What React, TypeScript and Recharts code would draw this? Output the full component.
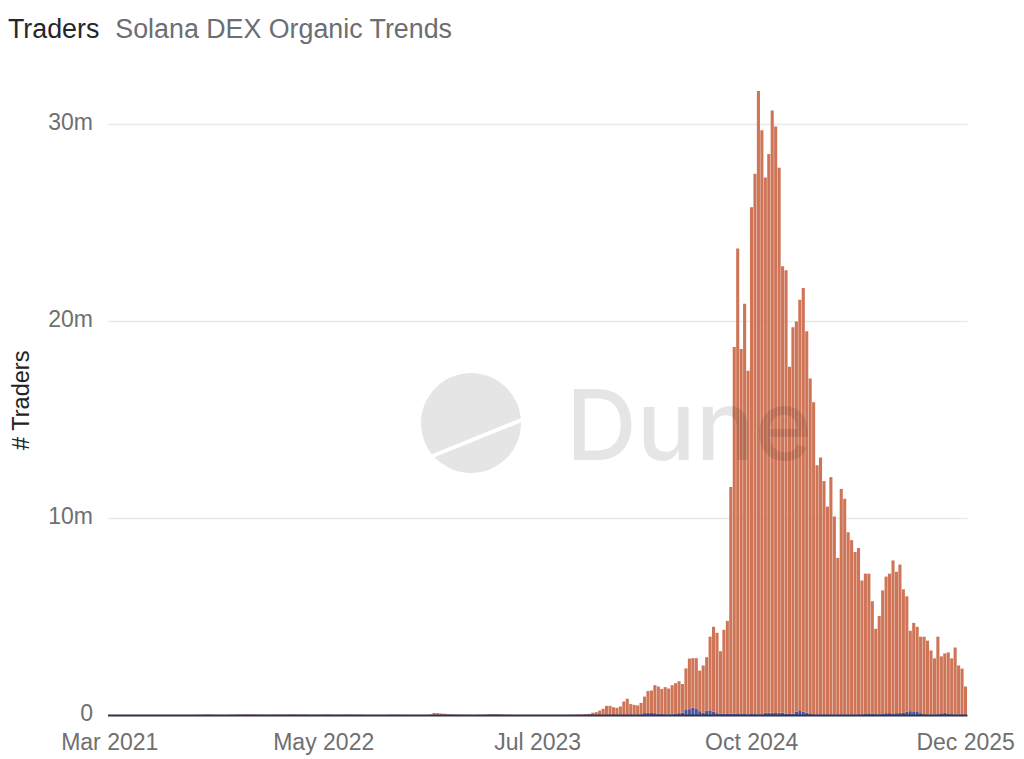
import { Bar, BarChart, CartesianGrid, XAxis, YAxis } from "recharts";

// weekly unique traders, in millions, one entry per week from Mar 2021 to Dec 2025
const totalTraders = [
  0.01, 0.01, 0.01, 0.01, 0.01, 0.01, 0.01, 0.01, 0.01, 0.01,
  0.01, 0.01, 0.01, 0.01, 0.01, 0.01, 0.02, 0.02, 0.02, 0.02,
  0.02, 0.02, 0.02, 0.03, 0.03, 0.03, 0.04, 0.04, 0.05, 0.05,
  0.04, 0.04, 0.03, 0.03, 0.03, 0.04, 0.04, 0.05, 0.05, 0.06,
  0.06, 0.06, 0.05, 0.05, 0.05, 0.04, 0.04, 0.05, 0.05, 0.05,
  0.05, 0.05, 0.06, 0.06, 0.05, 0.05, 0.05, 0.05, 0.04, 0.04,
  0.04, 0.04, 0.05, 0.05, 0.05, 0.04, 0.04, 0.04, 0.04, 0.05,
  0.05, 0.04, 0.04, 0.04, 0.03, 0.03, 0.03, 0.03, 0.03, 0.03,
  0.03, 0.04, 0.04, 0.04, 0.04, 0.03, 0.03, 0.03, 0.03, 0.03,
  0.03, 0.03, 0.03, 0.05, 0.13, 0.12, 0.1, 0.09, 0.07, 0.06,
  0.05, 0.05, 0.04, 0.04, 0.04, 0.03, 0.03, 0.04, 0.04, 0.05,
  0.06, 0.07, 0.07, 0.06, 0.05, 0.04, 0.04, 0.03, 0.03, 0.03,
  0.03, 0.03, 0.03, 0.03, 0.03, 0.03, 0.03, 0.03, 0.03, 0.03,
  0.03, 0.03, 0.03, 0.03, 0.04, 0.04,
  0.05, 0.05, 0.07, 0.08, 0.14, 0.17, 0.25, 0.34, 0.49, 0.49,
  0.42, 0.39, 0.46, 0.71, 0.85, 0.58, 0.54, 0.51, 0.64, 0.96,
  1.24, 1.27, 1.54, 1.47, 1.35, 1.44, 1.37, 1.54, 1.64, 1.74,
  1.6, 2.39, 2.89, 2.91, 2.91, 2.28, 2.54, 2.96, 4.0, 4.5,
  4.2, 3.26, 4.35, 4.8,
  11.6, 18.7, 23.7, 18.6, 20.9, 17.5, 25.8, 27.5, 31.7, 29.7,
  27.3, 28.5, 30.7, 29.9, 27.8, 22.8, 22.6, 17.7, 19.7, 20.0,
  21.1, 21.7, 19.5, 17.1, 15.9,
  12.7, 13.1, 11.9, 10.6, 12.1, 10.1, 8.0,
  11.5, 11.0, 9.3, 8.9, 8.3, 8.5, 6.85, 7.2, 7.2, 5.8,
  4.4, 5.05, 6.35, 7.05, 7.2, 7.87, 7.3, 7.66, 6.4, 6.05,
  4.3, 4.7, 4.5, 4.0, 4.0, 3.8, 3.3, 2.9, 4.0, 3.0,
  3.15, 3.2, 2.9, 3.45, 2.54, 2.38, 1.47
];

const organicTraders = [
  0.01, 0.01, 0.01, 0.01, 0.01, 0.01, 0.01, 0.01, 0.01, 0.01,
  0.01, 0.01, 0.01, 0.01, 0.01, 0.01, 0.01, 0.01, 0.01, 0.01,
  0.01, 0.01, 0.01, 0.01, 0.01, 0.01, 0.01, 0.01, 0.01, 0.01,
  0.01, 0.01, 0.01, 0.01, 0.01, 0.01, 0.01, 0.01, 0.01, 0.01,
  0.01, 0.01, 0.01, 0.01, 0.01, 0.01, 0.01, 0.01, 0.01, 0.01,
  0.01, 0.01, 0.01, 0.01, 0.01, 0.01, 0.01, 0.01, 0.01, 0.01,
  0.01, 0.01, 0.01, 0.01, 0.01, 0.01, 0.01, 0.01, 0.01, 0.01,
  0.01, 0.01, 0.01, 0.01, 0.01, 0.01, 0.01, 0.01, 0.01, 0.01,
  0.01, 0.01, 0.01, 0.01, 0.01, 0.01, 0.01, 0.01, 0.01, 0.01,
  0.01, 0.01, 0.01, 0.01, 0.01, 0.01, 0.01, 0.01, 0.01, 0.01,
  0.01, 0.01, 0.01, 0.01, 0.01, 0.01, 0.01, 0.01, 0.01, 0.01,
  0.01, 0.01, 0.01, 0.01, 0.01, 0.01, 0.01, 0.01, 0.01, 0.01,
  0.01, 0.01, 0.01, 0.01, 0.01, 0.01, 0.01, 0.01, 0.01, 0.01,
  0.01, 0.01, 0.01, 0.01, 0.01, 0.01,
  0.02, 0.02, 0.02, 0.02, 0.02, 0.03, 0.03, 0.03, 0.03, 0.03,
  0.03, 0.03, 0.03, 0.03, 0.04, 0.04, 0.04, 0.05, 0.06,
  0.12, 0.13, 0.13, 0.12, 0.1,
  0.07, 0.06, 0.05, 0.06, 0.1, 0.12,
  0.14, 0.28, 0.32, 0.4, 0.36, 0.22,
  0.15, 0.24, 0.26, 0.2,
  0.12, 0.1, 0.08, 0.08, 0.1, 0.1, 0.08, 0.07, 0.07, 0.06, 0.08, 0.07, 0.06, 0.06,
  0.14, 0.15, 0.14, 0.13, 0.15, 0.14, 0.1,
  0.08, 0.09,
  0.2, 0.23, 0.2, 0.14,
  0.08, 0.06, 0.05, 0.05, 0.05, 0.05, 0.05, 0.05, 0.05, 0.05, 0.05, 0.05, 0.05, 0.05, 0.05, 0.06, 0.07,
  0.11, 0.1,
  0.07, 0.06, 0.08,
  0.12, 0.12, 0.11, 0.12, 0.13, 0.13,
  0.2, 0.22, 0.21, 0.18, 0.12,
  0.07, 0.05, 0.05, 0.05, 0.06,
  0.11, 0.13, 0.11,
  0.07, 0.05, 0.05, 0.05, 0.05
];

const monthLabels = ["Mar 2021", "May 2022", "Jul 2023", "Oct 2024", "Dec 2025"];
const valueTicks = [0, 10, 20, 30];
const WEEKS_PER_LABEL = 62;

const rows = totalTraders.map((total, week) => ({
  week,
  organic: organicTraders[week],
  other: total - organicTraders[week]
}));

const tickFont = { fontSize: 23, fill: "#6f6f6f", fontFamily: "'Liberation Sans', sans-serif" };

export default function App() {
  return (
    <div style={{ position: "absolute", left: 0, top: 0, width: 1024, height: 759, background: "#fff", overflow: "hidden" }}>
      <div style={{ position: "absolute", left: 8, top: 14, fontFamily: "'Liberation Sans', sans-serif", fontSize: 26.8, lineHeight: "30px", whiteSpace: "nowrap" }}>
        <span style={{ color: "#23262b" }}>Traders</span>
        <span style={{ color: "#6b6e72", marginLeft: 16 }}>Solana DEX Organic Trends</span>
      </div>
      <BarChart
        width={1024}
        height={759}
        data={rows}
        margin={{ top: 85, right: 56.6, left: 0, bottom: 0 }}
        style={{ position: "absolute", left: 0, top: 0 }}
      >
        <CartesianGrid vertical={false} stroke="#e9e9e9" strokeWidth={1.5} horizontalValues={valueTicks} />
        <XAxis
          dataKey="week"
          interval={WEEKS_PER_LABEL - 1}
          height={43.5}
          tickLine={false}
          tickMargin={12}
          axisLine={{ stroke: "#2f3350", strokeWidth: 2 }}
          tick={tickFont}
          tickFormatter={(week: number) => monthLabels[week / WEEKS_PER_LABEL]}
        />
        <YAxis
          width={108}
          domain={[0, 32]}
          ticks={valueTicks}
          interval={0}
          tickLine={false}
          axisLine={false}
          tickMargin={9}
          tick={{ ...tickFont, dy: -3 }}
          tickFormatter={(v: number) => (v === 0 ? "0" : `${v}m`)}
          label={{
            value: "# Traders",
            angle: -90,
            position: "insideLeft",
            offset: 21,
            style: { fontSize: 23.5, fill: "#222", fontFamily: "'Liberation Sans', sans-serif", textAnchor: "middle" }
          }}
        />
        <Bar dataKey="organic" stackId="traders" fill="#4a55a0" barSize={3.1} isAnimationActive={false} />
        <Bar dataKey="other" stackId="traders" fill="#cf7557" barSize={3.1} isAnimationActive={false} />
      </BarChart>
      <svg width={1024} height={759} style={{ position: "absolute", left: 0, top: 0, pointerEvents: "none" }}>
        <circle cx={471} cy={423} r={50} fill="#000" fillOpacity={0.1} />
        <line x1={430} y1={457} x2={524} y2={419} stroke="#fff" strokeWidth={4} />
        <text x={566} y={460} fontFamily="Inter, sans-serif" fontSize={98} fontWeight={500} fill="#000" fillOpacity={0.1}>
          Dune
        </text>
      </svg>
    </div>
  );
}
